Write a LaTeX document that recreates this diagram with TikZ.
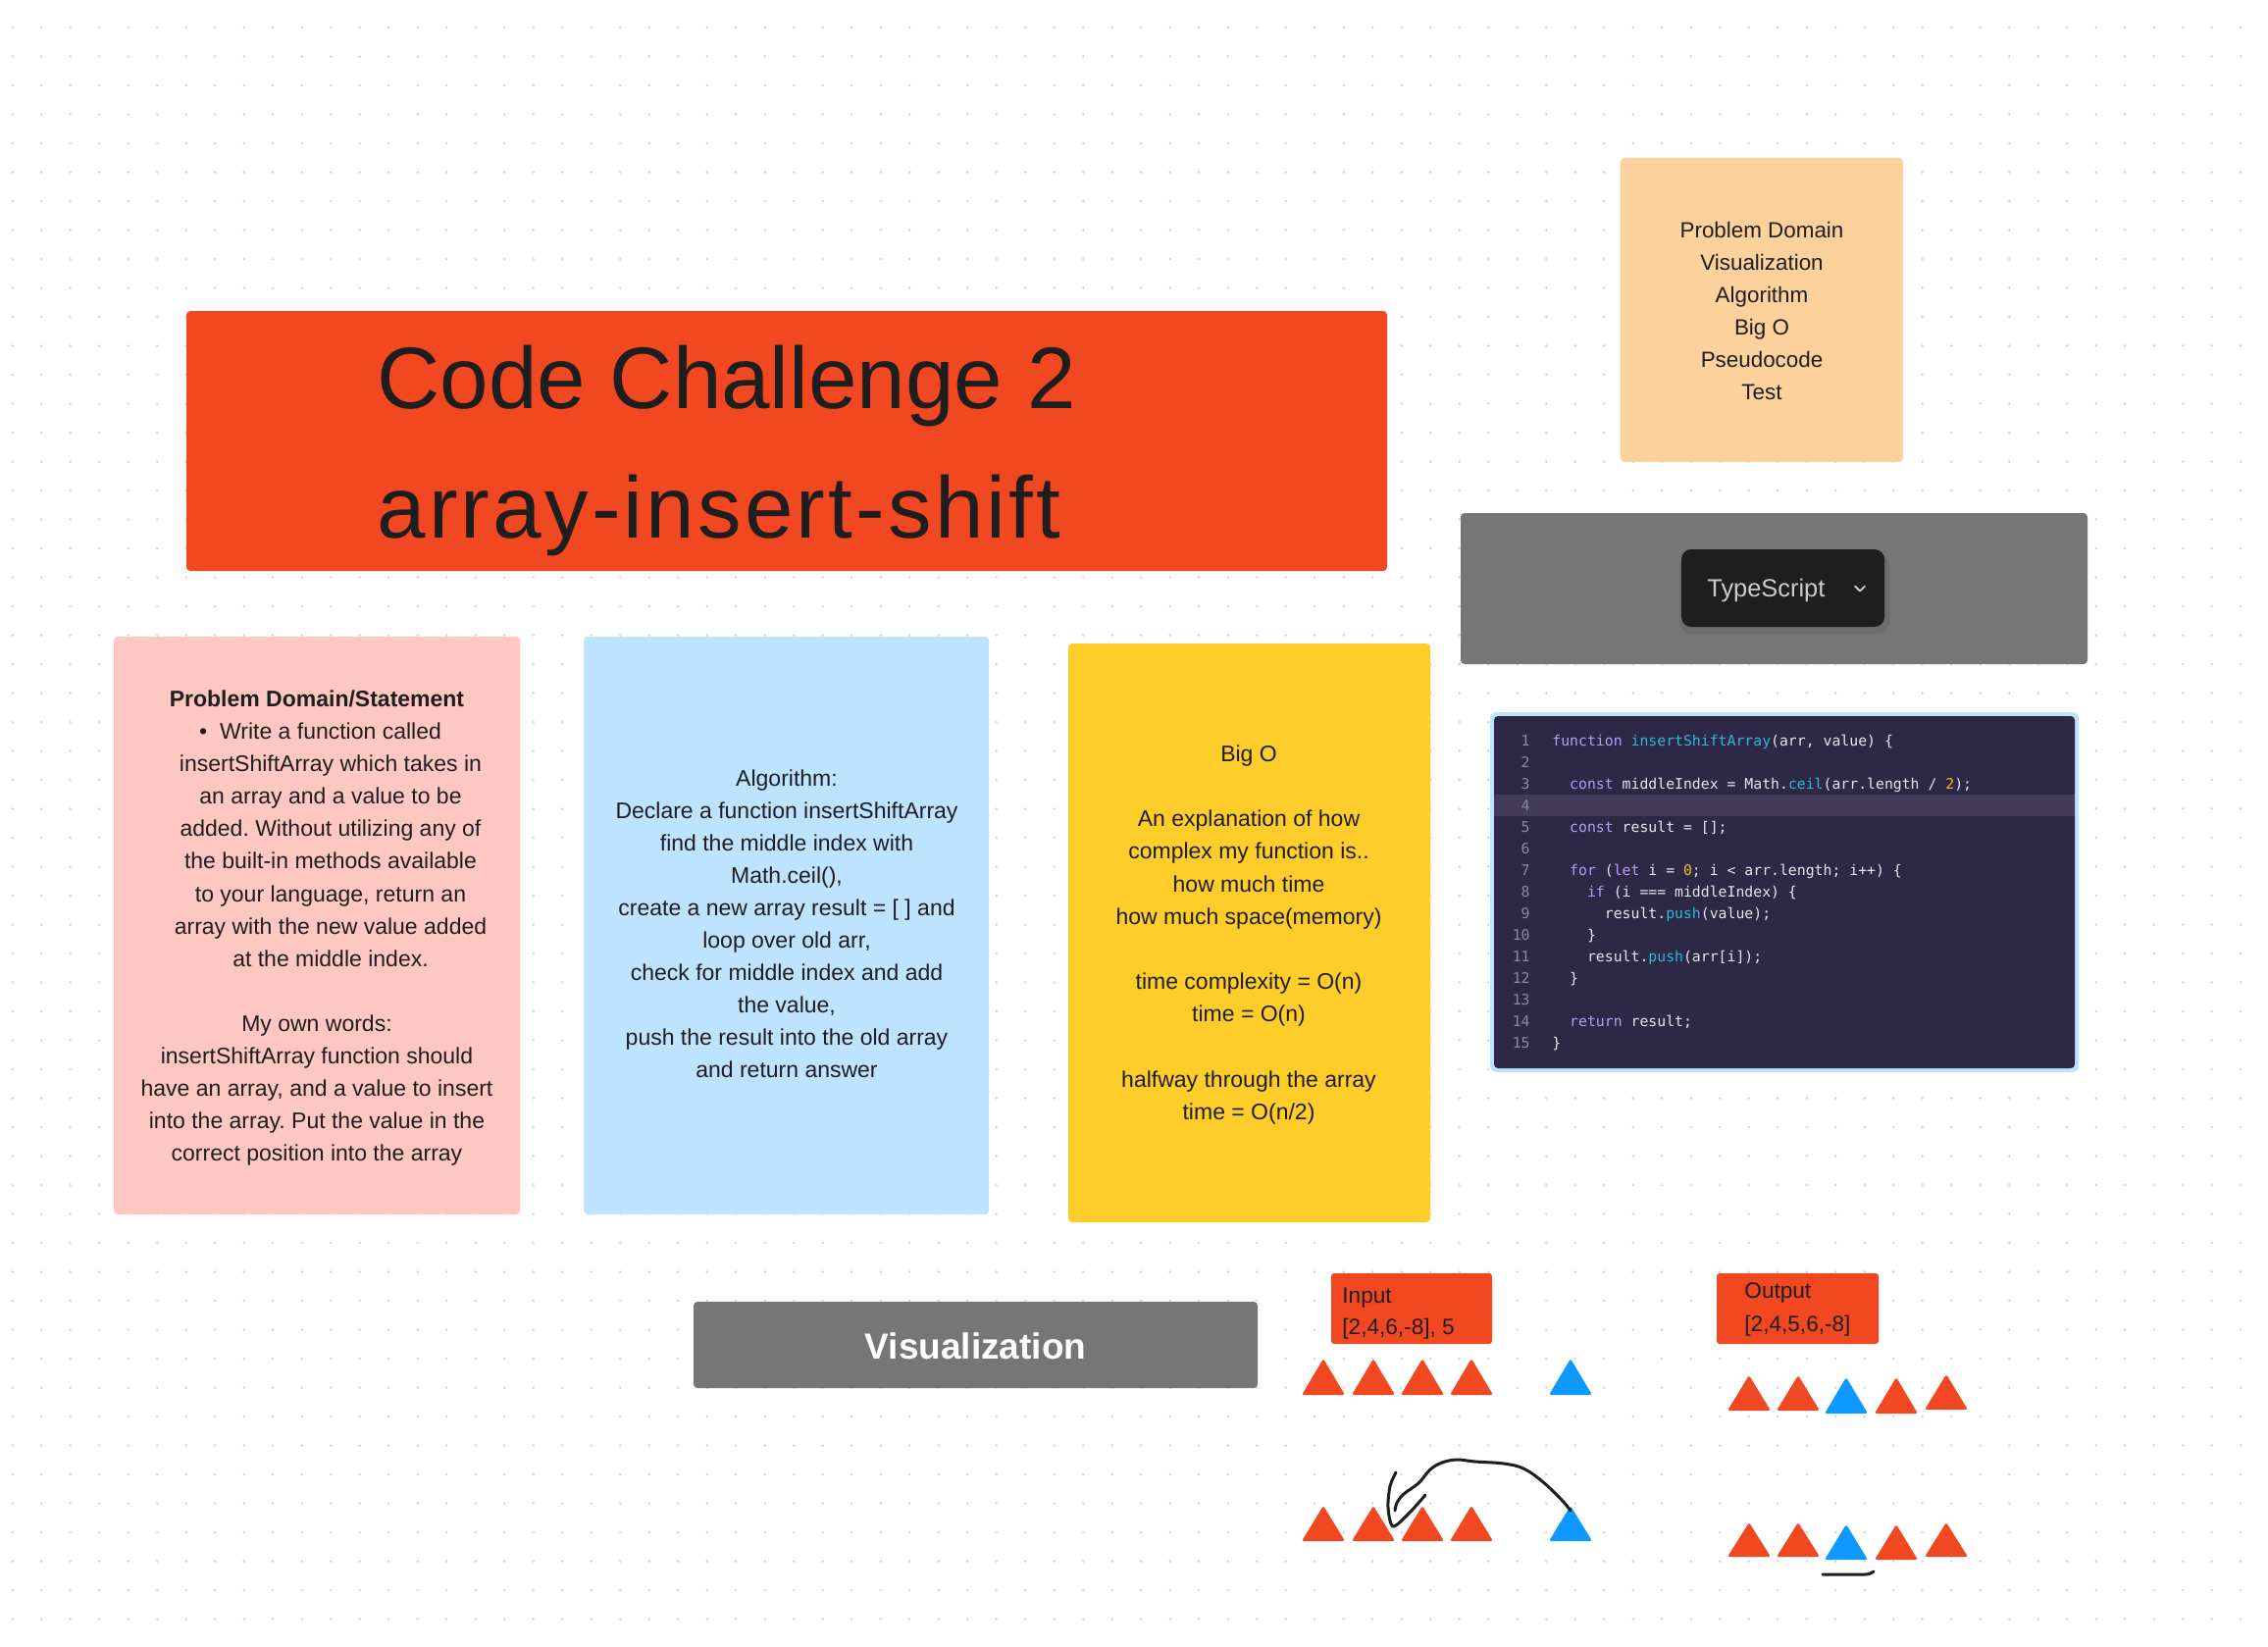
\documentclass[tikz,border=0pt]{standalone}
\usepackage{fontspec}
\setmainfont{Liberation Sans}
\newfontfamily\codefont{DejaVu Sans Mono}
\usetikzlibrary{fit}
\frenchspacing
\definecolor{ink}{HTML}{1E1E1E}
\definecolor{redfig}{HTML}{F24822}
\definecolor{bluefig}{HTML}{0D99FF}
\definecolor{pinkbox}{HTML}{FFC7C2}
\definecolor{bluebox}{HTML}{BDE3FF}
\definecolor{yellowbox}{HTML}{FFCD29}
\definecolor{peachbox}{HTML}{FCD19C}
\definecolor{grayp}{HTML}{767676}
\definecolor{btn}{HTML}{1E1E1E}
\definecolor{codebg}{HTML}{2D2846}
\definecolor{codehl}{HTML}{423B59}
\definecolor{kw}{HTML}{B59CF5}
\definecolor{fn}{HTML}{2DB7DE}
\definecolor{num}{HTML}{EBC21B}
\definecolor{ctext}{HTML}{E8E6EE}
\definecolor{lnum}{HTML}{8E8A9E}
\definecolor{dotc}{HTML}{D2D2D2}
\newcommand\tl[4]{\node[txt] (#1) at (#2,#3) {#4};}
\newcommand\cln[3]{\node[lnumstyle] (ln#1) at (1560,#2) {#1};\node[codeline] (code#1) at (1582,#2) {#3};}
\newcommand\tri[5]{\fill[#4, rounded corners=1.2pt] (#1-22,#3) -- (#1,#2) -- (#1+22,#3) -- cycle; \coordinate (#5) at (#1,#2);}
\newcommand\K[1]{\textcolor{kw}{#1}}
\newcommand\F[1]{\textcolor{fn}{#1}}
\newcommand\N[1]{\textcolor{num}{#1}}
\newcommand\ind[1]{\hphantom{#1}}
\begin{document}
\begin{tikzpicture}[x=0.5pt,y=-0.5pt,
  txt/.style={anchor=base, inner sep=0pt, text=ink, font=\fontsize{11.5pt}{14pt}\selectfont},
  card/.style={inner sep=0pt, rounded corners=2pt},
  codeline/.style={anchor=base west, inner sep=0pt, text=ctext, font=\codefont\fontsize{7.4pt}{9pt}\selectfont},
  lnumstyle/.style={anchor=base east, inner sep=0pt, text=lnum, font=\codefont\fontsize{7.4pt}{9pt}\selectfont},
  hand/.style={draw=ink, line width=1.5pt, line cap=round, line join=round}]
\useasboundingbox (0,0) rectangle (2312,1678);
\fill[white] (0,0) rectangle (2312,1678);
% dot grid
\foreach \i in {0,...,78} {\foreach \j in {0,...,56} {\fill[dotc] (12.7+29.5*\i,28+29.5*\j) circle (0.65pt);}}

% title
\node[card, fill=redfig, fit={(190,317) (1414,582)}] (titlebox) {};
\node[anchor=base west, inner sep=0pt, text=ink, font=\fontsize{44.5pt}{50pt}\selectfont] (title1) at (384,416) {Code Challenge 2};
\node[anchor=base west, inner sep=0pt, text=ink, font=\fontsize{44.5pt}{50pt}\selectfont\addfontfeature{LetterSpace=3.6}] (title2) at (384,548) {array-insert-shift};

% peach checklist
\node[card, fill=peachbox, fit={(1652,161) (1940,471)}] (peach) {};
\begin{scope}[txt/.append style={font=\fontsize{11.2pt}{14pt}\selectfont}]
\tl{pc0}{1796}{242}{Problem Domain}
\tl{pc1}{1796}{275}{Visualization}
\tl{pc2}{1796}{308}{Algorithm}
\tl{pc3}{1796}{341}{Big O}
\tl{pc4}{1796}{374}{Pseudocode}
\tl{pc5}{1796}{407}{Test}
\end{scope}

% TypeScript panel
\node[card, fill=grayp, fit={(1489,523) (2128,677)}] (tspanel) {};
\fill[black, opacity=0.08] (1712,565) [rounded corners=6pt] rectangle (1926,646);
\node[inner sep=0pt, fill=btn, rounded corners=5pt, fit={(1714,560) (1921,639)}] (tsbtn) {};
\node[anchor=base west, inner sep=0pt, text=white!80!black, font=\fontsize{12.7pt}{15pt}\selectfont] (tstext) at (1740,608) {TypeScript};
\draw[white!80!black, line width=0.9pt, line cap=round, line join=round] (1891,597.5) -- (1896,602.5) -- (1901,597.5);

% code block
\node[inner sep=0pt, rounded corners=3pt, fill=bluebox, fit={(1519,726) (2119,1093)}] (codeouter) {};
\node[inner sep=0pt, rounded corners=2pt, fill=codebg, fit={(1523,730) (2115,1089)}] (codebox) {};
\fill[codehl] (1523,810) rectangle (2115,832);
\cln{1}{760}{\K{function} \F{insertShiftArray}(arr, value) \{}
\cln{2}{782}{}
\cln{3}{804}{\ind{xx}\K{const} middleIndex = Math.\F{ceil}(arr.length / \N{2});}
\cln{4}{826}{}
\cln{5}{848}{\ind{xx}\K{const} result = [];}
\cln{6}{870}{}
\cln{7}{892}{\ind{xx}\K{for} (\K{let} i = \N{0}; i < arr.length; i++) \{}
\cln{8}{914}{\ind{xxxx}\K{if} (i === middleIndex) \{}
\cln{9}{936}{\ind{xxxxxx}result.\F{push}(value);}
\cln{10}{958}{\ind{xxxx}\}}
\cln{11}{980}{\ind{xxxx}result.\F{push}(arr[i]);}
\cln{12}{1002}{\ind{xx}\}}
\cln{13}{1024}{}
\cln{14}{1046}{\ind{xx}\K{return} result;}
\cln{15}{1068}{\}}

% pink card
\node[card, fill=pinkbox, fit={(116,649) (530,1238)}] (pink) {};
\tl{pk0}{323}{720}{\textbf{Problem Domain/Statement}}
\tl{pk1}{337}{753}{\llap{\textbullet\hspace{6.5pt}}Write a function called}
\tl{pk2}{337}{786}{insertShiftArray which takes in}
\tl{pk3}{337}{819}{an array and a value to be}
\tl{pk4}{337}{852}{added. Without utilizing any of}
\tl{pk5}{337}{885}{the built-in methods available}
\tl{pk6}{337}{919}{to your language, return an}
\tl{pk7}{337}{952}{array with the new value added}
\tl{pk8}{337}{985}{at the middle index.}
\tl{pk10}{323}{1051}{My own words:}
\tl{pk11}{323}{1084}{insertShiftArray function should}
\tl{pk12}{323}{1117}{have an array, and a value to insert}
\tl{pk13}{323}{1150}{into the array. Put the value in the}
\tl{pk14}{323}{1183}{correct position into the array}

% blue card
\node[card, fill=bluebox, fit={(595,649) (1008,1238)}] (blue) {};
\tl{al0}{802}{801}{Algorithm:}
\tl{al1}{802}{834}{Declare a function insertShiftArray}
\tl{al2}{802}{867}{find the middle index with}
\tl{al3}{802}{900}{Math.ceil(),}
\tl{al4}{802}{933}{create a new array result = [ ] and}
\tl{al5}{802}{966}{loop over old arr,}
\tl{al6}{802}{999}{check for middle index and add}
\tl{al7}{802}{1032}{the value,}
\tl{al8}{802}{1065}{push the result into the old array}
\tl{al9}{802}{1098}{and return answer}

% yellow card
\node[card, fill=yellowbox, fit={(1089,656) (1458,1246)}] (yellow) {};
\tl{bo0}{1273}{776}{Big O}
\tl{bo2}{1273}{842}{An explanation of how}
\tl{bo3}{1273}{875}{complex my function is..}
\tl{bo4}{1273}{909}{how much time}
\tl{bo5}{1273}{942}{how much space(memory)}
\tl{bo7}{1273}{1008}{time complexity = O(n)}
\tl{bo8}{1273}{1041}{time = O(n)}
\tl{bo10}{1273}{1108}{halfway through the array}
\tl{bo11}{1273}{1141}{time = O(n/2)}

% visualization
\node[card, fill=grayp, fit={(707,1327) (1282,1415)}] (vizbox) {};
\node[anchor=base, inner sep=0pt, text=white, font=\bfseries\fontsize{18.5pt}{22pt}\selectfont] (viztext) at (994.5,1385) {Visualization};

% input / output labels
\node[inner sep=0pt, rounded corners=1.5pt, fill=redfig, fit={(1357,1298) (1521,1370)}] (inbox) {};
\node[anchor=base west, inner sep=0pt, text=ink, font=\fontsize{11.3pt}{14pt}\selectfont] (in1) at (1368,1328) {Input};
\node[anchor=base west, inner sep=0pt, text=ink, font=\fontsize{11.3pt}{14pt}\selectfont] (in2) at (1368,1360) {[2,4,6,-8], 5};
\node[inner sep=0pt, rounded corners=1.5pt, fill=redfig, fit={(1750,1298) (1915,1370)}] (outbox) {};
\node[anchor=base west, inner sep=0pt, text=ink, font=\fontsize{11.3pt}{14pt}\selectfont] (out1) at (1778,1323) {Output};
\node[anchor=base west, inner sep=0pt, text=ink, font=\fontsize{11.3pt}{14pt}\selectfont] (out2) at (1778,1357) {[2,4,5,6,-8]};

% triangles
\tri{1349}{1385}{1422}{redfig}{ia1}
\tri{1400}{1385}{1422}{redfig}{ia2}
\tri{1450}{1385}{1422}{redfig}{ia3}
\tri{1500}{1385}{1422}{redfig}{ia4}
\tri{1601}{1385}{1422}{bluefig}{ia5}
\tri{1349}{1535}{1571}{redfig}{ib1}
\tri{1400}{1535}{1571}{redfig}{ib2}
\tri{1450}{1535}{1571}{redfig}{ib3}
\tri{1500}{1535}{1571}{redfig}{ib4}
\tri{1601}{1535}{1571}{bluefig}{ib5}
\tri{1783}{1402}{1438}{redfig}{oa1}
\tri{1833}{1402}{1438}{redfig}{oa2}
\tri{1882}{1404}{1441}{bluefig}{oa3}
\tri{1933}{1404}{1441}{redfig}{oa4}
\tri{1984}{1401}{1437}{redfig}{oa5}
\tri{1783}{1552}{1587}{redfig}{ob1}
\tri{1833}{1552}{1587}{redfig}{ob2}
\tri{1882}{1554}{1590}{bluefig}{ob3}
\tri{1933}{1554}{1590}{redfig}{ob4}
\tri{1984}{1552}{1587}{redfig}{ob5}

% hand-drawn arrow from blue value to insertion point
\coordinate (handstart) at (1601,1540);
\coordinate (handend) at (1422,1540);
\draw[hand] plot[smooth, tension=0.6] coordinates {(handstart) (1591,1528) (1572,1510) (1553,1497) (1533,1492) (1504,1490) (1485,1488) (1470,1491) (1458,1498) (1446,1512) (1431,1523) (1424,1532) (handend)};
\draw[hand] plot[smooth, tension=0.5] coordinates {(1423,1501) (1417,1515) (1415,1537) (1420,1556) (1436,1543) (1453,1524)};
% underline
\coordinate (ulstart) at (1858,1605);
\draw[hand] (ulstart) -- (1899,1605) .. controls (1905,1605) .. (1910,1602);
\end{tikzpicture}
\end{document}
